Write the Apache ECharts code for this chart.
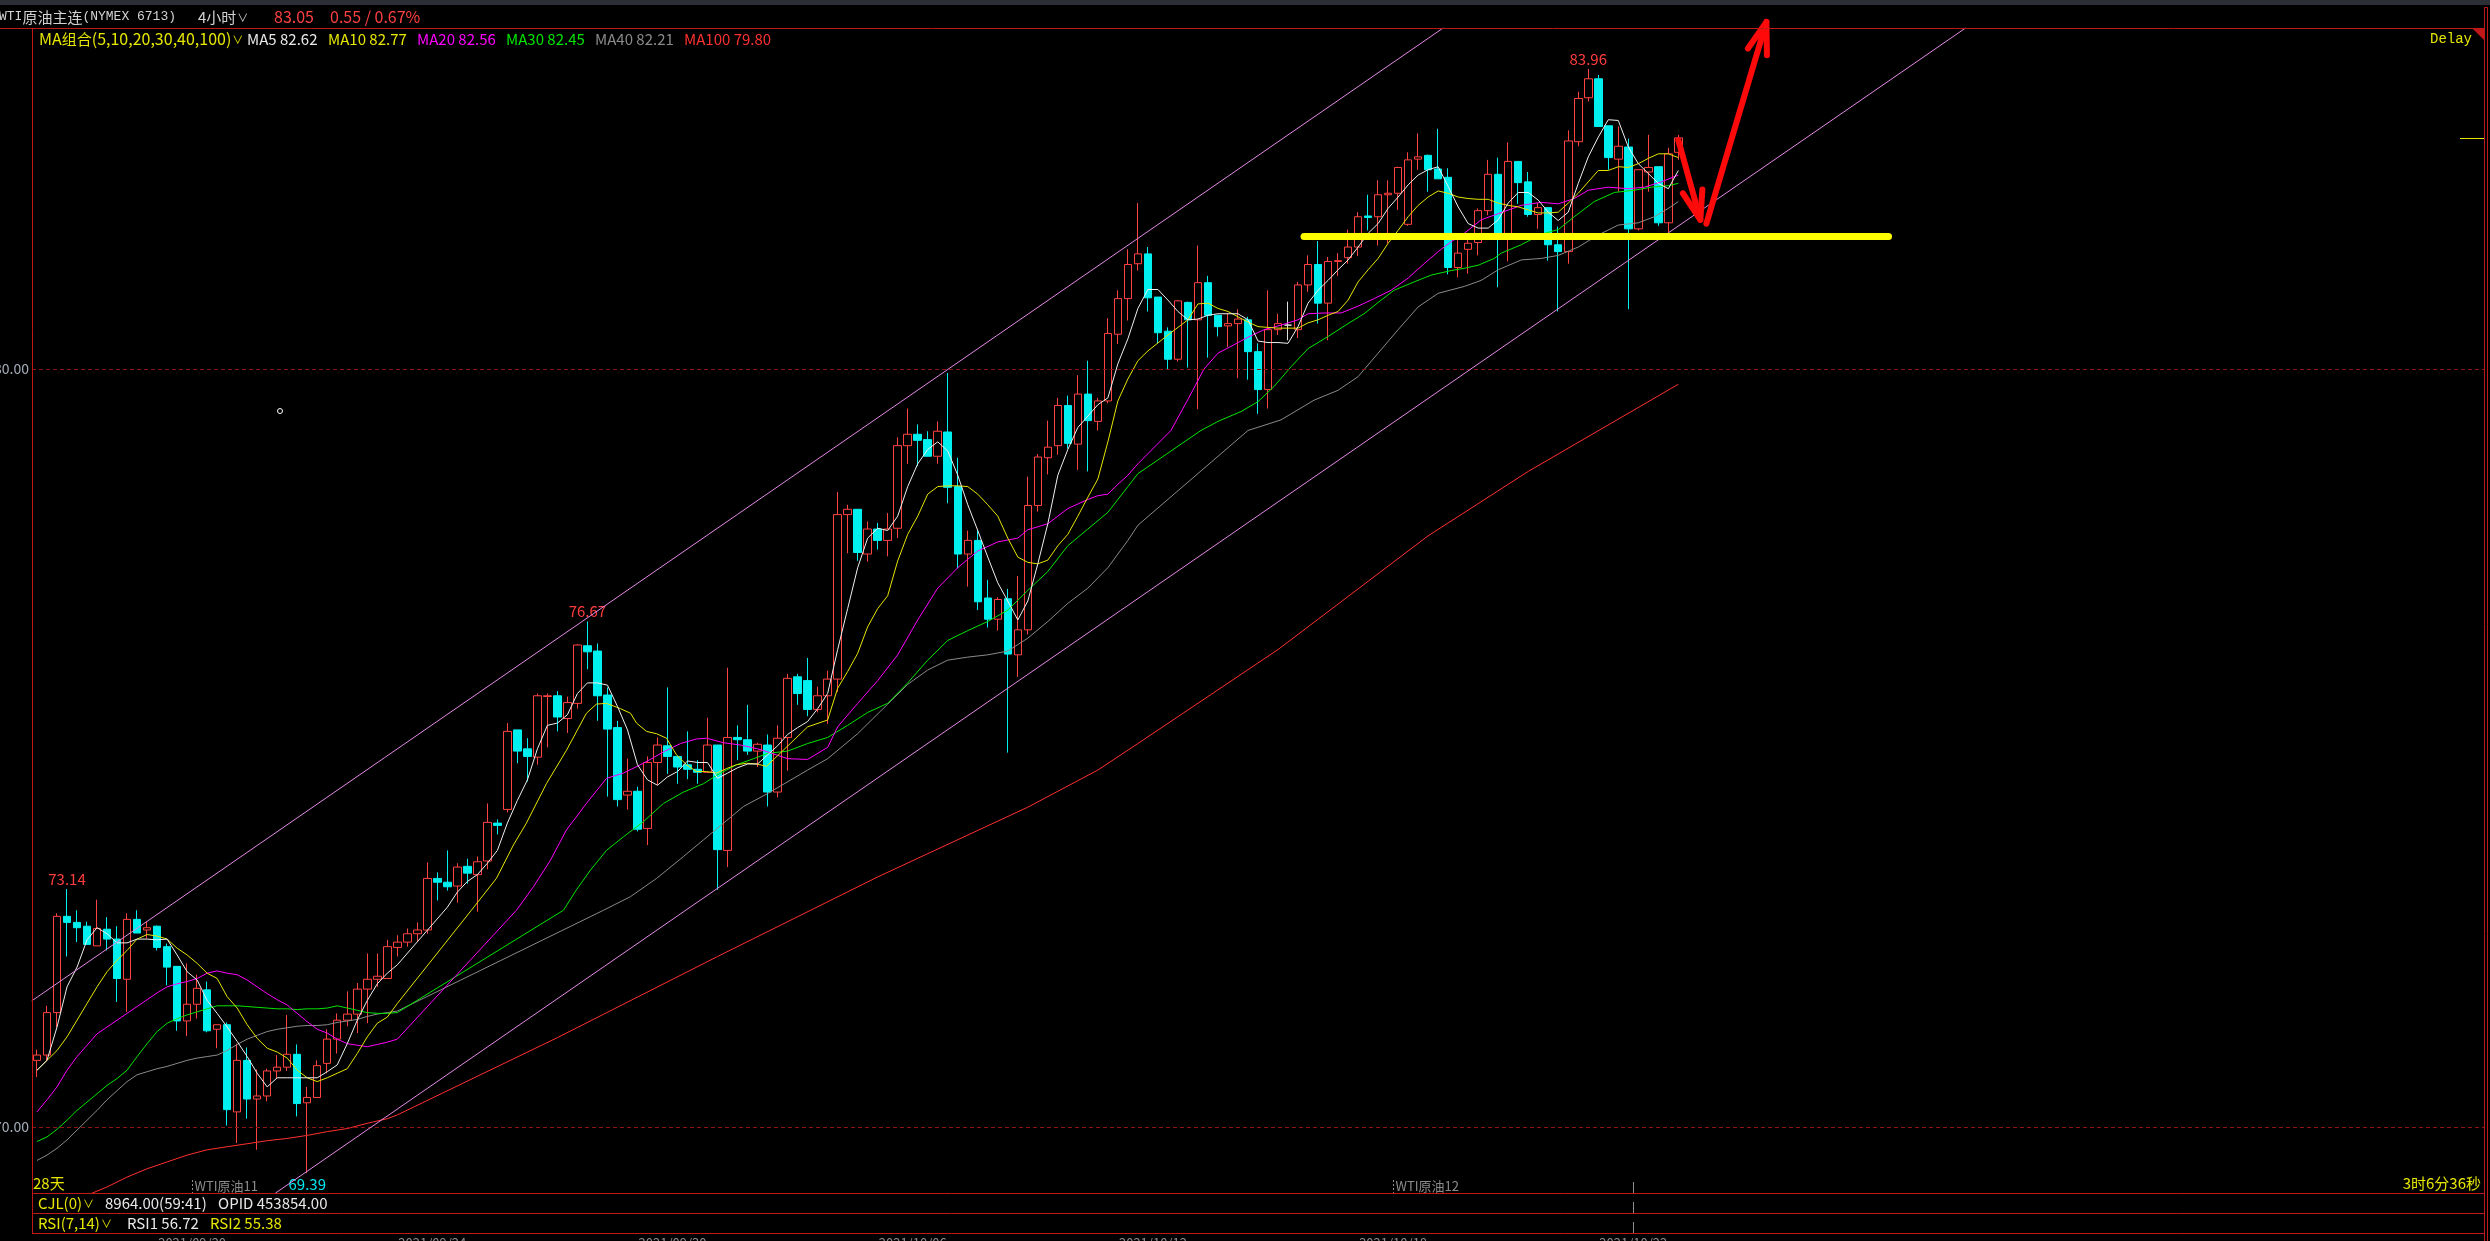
<!DOCTYPE html>
<html><head><meta charset="utf-8">
<script src="https://cdn.jsdelivr.net/npm/echarts@6/dist/echarts.min.js"></script>
<style>html,body{margin:0;padding:0;background:#000;overflow:hidden}#c{width:2490px;height:1241px}</style>
</head><body><div id="c"></div>
<script>
// ---------- DATA (bar numbers are 1-based) ----------
const open = [70.88,70.95,71.51,72.78,72.70,72.65,72.39,72.61,72.48,71.95, 72.74,72.60,72.65,72.38,72.12,71.40,71.62,71.81,71.29,71.35, 70.20,70.88,70.37,70.41,70.74,70.79,70.96,70.32,70.39,70.84, 71.16,71.41,71.49,71.82,71.95,71.96,72.37,72.44,72.55,72.60, 73.28,73.23,73.18,73.44,73.33,73.51,74.01,74.19,75.24,74.99, 74.88,75.68,75.69,75.39,75.59,76.35,76.28,75.70,75.27,74.38, 74.43,73.94,74.81,75.03,74.89,74.78,74.72,74.68,75.04,73.65, 75.14,75.11,74.96,75.04,74.42,75.14,75.94,75.89,75.51,75.69, 75.91,78.08,78.15,77.56,77.89,77.74,77.90,78.99,79.14,79.07, 78.85,79.17,78.45,77.56,77.74,76.98,76.70,76.97,76.23,76.56, 78.20,78.83,78.99,79.52,79.01,79.67,79.31,79.58,80.46,80.93, 81.39,81.52,80.95,80.50,80.13,80.88,80.65,81.14,80.71,80.57, 80.60,80.65,80.23,79.73,80.52,80.58,80.52,81.11,81.38,80.87, 81.42,81.47,81.61,82.02,82.01,82.30,82.32,81.91,82.77,82.82, 82.64,82.53,81.34,81.58,81.67,82.09,82.57,81.79,82.74,82.47, 82.04,82.13,81.64,81.55,83.00,83.58,83.83,83.21,82.77,82.93, 81.85,82.60,82.67,81.93,82.86];
const close = [70.95,71.51,72.78,72.70,72.63,72.41,72.62,72.48,71.96,72.74, 72.56,72.63,72.37,72.11,71.40,71.62,71.83,71.27,71.35,70.23, 70.88,70.37,70.41,70.74,70.79,70.96,70.31,70.39,70.81,71.16, 71.41,71.49,71.82,71.95,71.99,72.38,72.44,72.55,72.60,73.28, 73.23,73.17,73.43,73.35,73.50,74.02,73.98,75.22,74.96,74.89, 75.69,75.69,75.41,75.60,76.36,76.27,75.69,75.25,74.32,74.43, 73.93,74.81,75.04,74.89,74.75,74.72,74.68,75.04,73.66,75.14, 75.11,74.96,75.05,74.42,75.13,75.92,75.72,75.51,75.69,75.91, 78.08,78.15,77.58,77.89,77.74,77.89,78.99,79.14,79.06,78.85, 79.18,78.44,77.56,77.74,76.93,76.70,76.96,76.24,76.56,78.20, 78.84,78.97,79.52,79.02,79.67,79.32,79.58,80.47,80.93,81.38, 81.52,80.94,80.48,80.13,80.90,80.65,81.14,80.71,80.56,80.60, 80.66,80.23,79.73,80.52,80.60,80.58,81.11,81.38,80.87,81.42, 81.43,81.61,82.01,82.00,82.30,82.32,82.66,82.76,82.80,82.63, 82.51,81.34,81.53,81.66,82.09,82.57,81.75,82.74,82.46,82.04, 82.13,81.64,81.55,83.01,83.57,83.83,83.20,82.79,82.94,81.85, 82.63,82.66,81.93,82.84,83.05];
const high = [71.02,71.60,72.82,73.14,72.86,72.71,73.00,72.77,72.65,72.82, 72.86,72.71,72.66,72.42,72.12,72.16,72.01,71.92,71.35,71.38, 71.10,71.05,70.76,70.77,70.95,71.48,71.09,70.53,70.88,71.29, 71.50,71.79,71.90,72.29,72.29,72.47,72.53,72.62,72.70,73.49, 73.36,73.65,73.48,73.54,73.57,74.27,74.06,75.33,75.24,75.13, 75.72,75.72,75.75,75.68,76.37,76.67,76.38,75.80,75.36,74.86, 74.49,74.89,75.14,75.80,74.90,75.22,74.84,75.40,75.04,76.06, 75.30,75.57,75.07,75.18,75.30,75.98,75.98,76.19,75.81,76.02, 78.38,78.21,78.15,77.99,77.97,78.10,79.10,79.48,79.27,79.18, 79.31,79.95,78.83,77.87,77.88,77.22,76.99,77.10,77.27,78.58, 78.88,79.32,79.62,79.65,79.92,80.11,79.62,80.67,81.04,81.58, 82.19,81.61,80.95,80.55,80.91,80.89,81.63,81.23,80.71,80.74, 80.79,80.69,80.34,81.04,80.73,80.89,81.15,81.50,81.69,81.48, 81.53,81.84,82.07,82.30,82.49,82.49,82.67,82.86,83.11,82.83, 83.17,82.65,81.70,81.75,82.12,82.76,82.79,82.99,82.74,82.60, 82.19,82.13,81.88,83.15,83.66,83.96,83.88,83.21,83.20,83.04, 82.63,83.09,82.67,82.92,83.09];
const low = [70.66,70.88,71.32,72.25,72.44,72.41,72.39,72.33,71.65,71.52, 72.56,72.49,72.33,71.87,71.27,71.20,71.43,71.25,71.04,70.02, 69.79,70.11,69.70,70.34,70.64,70.74,70.14,69.39,70.39,70.71, 70.97,71.33,71.24,71.37,71.85,71.96,72.25,72.38,72.45,72.55, 72.99,73.12,72.96,73.21,72.84,73.40,73.86,74.15,74.80,74.56, 74.78,75.01,75.22,75.20,75.52,76.04,75.36,74.36,74.23,74.19, 73.90,73.72,74.51,74.66,74.53,74.59,74.53,74.67,73.13,73.43, 74.84,74.91,74.75,74.23,74.35,74.70,75.57,75.42,75.47,75.32, 75.74,77.57,77.47,77.46,77.62,77.53,77.77,78.75,78.72,78.85, 78.75,78.23,77.37,77.13,76.82,76.59,76.55,74.94,75.94,76.50, 78.12,78.61,78.87,78.95,78.67,78.65,79.19,79.55,80.33,80.64, 81.30,80.76,80.34,80.00,80.10,80.02,79.47,80.15,80.43,80.29, 79.88,79.86,79.41,79.48,80.45,80.38,80.41,81.02,80.60,80.38, 81.23,81.39,81.49,81.83,81.63,81.66,82.10,81.89,82.63,82.34, 82.51,81.25,81.21,81.26,81.50,82.03,81.08,81.42,82.18,82.01, 81.85,81.43,80.76,81.39,82.94,83.53,83.20,82.63,82.34,80.79, 81.83,82.34,81.89,81.80,82.76];

// moving averages: [bar number, value]
const ma5 = [[1,70.75],[2,70.88],[3,71.32],[4,71.85],[5,72.11],[6,72.47],[7,72.63],[8,72.55],[9,72.43],[10,72.43],[11,72.48],[12,72.48],[13,72.47],[14,72.48],[15,72.27],[16,72.05],[17,71.94],[18,71.67],[19,71.50],[20,71.32],[21,71.13],[22,70.93],[23,70.71],[24,70.53],[25,70.65],[26,70.65],[27,70.65],[28,70.65],[29,70.65],[30,70.73],[31,70.82],[32,71.10],[33,71.41],[34,71.67],[35,71.89],[36,72.03],[37,72.14],[42,72.90],[43,73.10],[44,73.24],[45,73.33],[46,73.48],[47,73.65],[48,74.01],[49,74.31],[50,74.58],[51,74.99],[52,75.30],[53,75.33],[54,75.44],[55,75.72],[56,75.86],[57,75.86],[58,75.83],[59,75.55],[60,75.24],[61,74.78],[62,74.58],[63,74.51],[64,74.62],[65,74.69],[66,74.83],[67,74.81],[68,74.81],[69,74.60],[70,74.67],[71,74.74],[72,74.79],[73,74.79],[74,74.91],[75,75.03],[76,75.18],[77,75.27],[78,75.35],[79,75.52],[80,75.72],[81,76.30],[82,76.84],[83,77.38],[84,77.77],[85,77.90],[86,77.87],[87,78.06],[88,78.45],[89,78.75],[90,78.94],[91,79.04],[92,78.92],[93,78.60],[94,78.21],[95,77.87],[96,77.52],[97,77.18],[98,76.94],[99,76.69],[100,76.94],[101,77.43],[102,77.96],[103,78.60],[104,78.94],[105,79.23],[106,79.38],[107,79.53],[108,79.62],[109,80.07],[110,80.40],[111,80.80],[112,81.05],[113,81.05],[114,80.91],[115,80.76],[116,80.65],[117,80.66],[118,80.71],[119,80.73],[120,80.73],[121,80.73],[122,80.65],[123,80.37],[124,80.35],[125,80.35],[126,80.34],[127,80.56],[128,80.87],[129,81.04],[130,81.17],[131,81.31],[132,81.44],[133,81.61],[134,81.79],[135,81.92],[136,82.12],[137,82.27],[138,82.43],[139,82.56],[140,82.63],[141,82.67],[142,82.41],[143,82.14],[144,81.92],[145,81.86],[146,81.86],[147,81.97],[148,82.19],[149,82.33],[150,82.33],[151,82.23],[152,82.07],[153,81.96],[154,82.07],[155,82.45],[156,82.80],[157,83.06],[158,83.29],[159,83.28],[160,82.93],[161,82.71],[162,82.58],[163,82.45],[164,82.38],[165,82.62]];
const ma10 = [[1,70.75],[2,70.88],[3,71.01],[4,71.19],[5,71.41],[6,71.63],[7,71.85],[8,72.05],[9,72.20],[10,72.33],[11,72.48],[12,72.54],[13,72.52],[14,72.48],[15,72.36],[16,72.27],[17,72.16],[18,72.03],[19,71.96],[20,71.72],[21,71.57],[22,71.35],[23,71.17],[24,71.04],[25,70.99],[26,70.91],[27,70.75],[28,70.65],[29,70.60],[30,70.65],[31,70.71],[32,70.77],[33,70.97],[34,71.19],[35,71.37],[36,71.45],[37,71.63],[44.4,72.86],[46.9,73.28],[48.6,73.72],[49.9,74.01],[51.9,74.53],[53.9,74.97],[55.9,75.46],[56.9,75.58],[57.9,75.59],[59.3,75.52],[60.3,75.46],[60.9,75.33],[61.9,75.22],[62.9,75.19],[63.9,75.13],[64.9,74.91],[65.9,74.78],[66.9,74.69],[67.9,74.69],[68.9,74.67],[69.9,74.73],[70.9,74.78],[71.9,74.80],[72.9,74.79],[73.9,74.76],[78,75.28],[80,75.37],[81,75.79],[82,76.01],[83,76.25],[84,76.60],[85,76.84],[86,77.01],[87,77.47],[88,77.82],[89,78.06],[90,78.35],[91,78.45],[92,78.46],[93,78.46],[94,78.45],[95,78.35],[96,78.21],[97,78.06],[98,77.77],[99,77.52],[100,77.45],[101,77.43],[102,77.48],[103,77.67],[104,77.82],[105,78.06],[106,78.31],[107,78.55],[108,79.04],[109,79.58],[110,79.87],[111,80.11],[112,80.24],[114,80.45],[116,80.65],[117,80.86],[118,80.87],[119,80.80],[120,80.76],[121,80.69],[122,80.62],[123,80.56],[125,80.54],[127,80.54],[128,80.61],[129,80.65],[130,80.71],[131,80.76],[132,80.91],[133,81.15],[134,81.31],[135,81.46],[136,81.66],[137,81.83],[138,82.01],[139,82.16],[140,82.27],[141,82.35],[142,82.32],[143,82.27],[144,82.25],[145,82.24],[146,82.24],[147,82.19],[148,82.16],[149,82.14],[150,82.10],[151,82.06],[152,82.06],[153,82.07],[154,82.19],[155,82.32],[156,82.47],[157,82.62],[158,82.62],[159,82.67],[160,82.66],[161,82.71],[162,82.78],[163,82.84],[164,82.84],[165,82.79]];
const ma20 = [[1,70.20],[2,70.36],[3,70.53],[4,70.75],[5,70.93],[6,71.08],[7,71.23],[8,71.32],[9,71.41],[10,71.50],[11,71.59],[12,71.68],[13,71.77],[14,71.85],[15,71.89],[16,71.92],[17,71.96],[18,72.03],[19,72.06],[20,72.03],[21,72.01],[22,71.94],[23,71.85],[24,71.76],[25,71.68],[26,71.61],[27,71.50],[28,71.39],[29,71.29],[30,71.24],[31,71.16],[32,71.10],[33,71.08],[34,71.06],[35,71.09],[36,71.12],[37,71.16],[48.9,72.86],[50.6,73.17],[52.3,73.52],[53.9,73.92],[55.9,74.27],[57.9,74.60],[59.6,74.67],[61.6,74.80],[63.6,74.95],[65.3,75.06],[66.9,75.12],[67.9,75.13],[69.6,75.07],[71.3,75.04],[73,74.99],[74,74.95],[76,74.86],[78,74.85],[80,75.01],[81,75.28],[83,75.59],[85,75.89],[87,76.23],[89,76.69],[91,77.11],[93,77.38],[95,77.60],[97,77.72],[99,77.77],[100,77.88],[101,77.92],[102,77.96],[103,78.06],[104,78.16],[106,78.28],[107,78.33],[108,78.35],[109,78.48],[110,78.60],[111,78.75],[114.3,79.19],[116,79.60],[117.6,80.00],[119,80.21],[120.3,80.30],[122,80.42],[123.6,80.52],[125.3,80.58],[127,80.65],[128,80.73],[129.6,80.74],[131.3,80.74],[133,80.83],[134.6,80.93],[136.3,81.04],[138,81.20],[139.6,81.39],[141,81.55],[142.3,81.68],[143.6,81.79],[145.3,81.97],[147,82.05],[149.3,82.16],[151.3,82.20],[153,82.18],[154.6,82.25],[156,82.36],[158,82.40],[160,82.38],[161.6,82.40],[163.3,82.47],[165,82.56]];
const ma30 = [[1,69.81],[2,69.87],[3,69.97],[4,70.09],[5,70.22],[6,70.33],[7,70.44],[8,70.55],[9,70.64],[10,70.75],[11,70.93],[12,71.10],[13,71.26],[14,71.37],[15,71.43],[16,71.48],[17,71.52],[18,71.56],[19,71.60],[20,71.60],[21,71.60],[22,71.59],[23,71.58],[24,71.57],[25,71.56],[26,71.56],[27,71.55],[28,71.56],[29,71.56],[30,71.57],[31,71.60],[32,71.57],[33,71.54],[34,71.51],[35,71.50],[36,71.50],[37,71.51],[53.6,72.86],[54.9,73.13],[56.3,73.39],[57.9,73.65],[59.6,73.83],[61.6,74.03],[63.6,74.27],[65.6,74.42],[67.6,74.53],[68.9,74.64],[70.9,74.78],[72.6,74.86],[74,74.93],[76,74.96],[78,75.06],[80,75.14],[82,75.30],[84,75.47],[86,75.59],[88,75.86],[90,76.16],[92,76.42],[94,76.55],[96,76.67],[98,76.82],[100,77.08],[102,77.33],[104,77.67],[106,77.89],[108,78.11],[110,78.45],[111,78.62],[117.3,79.19],[119,79.31],[121.3,79.44],[123,79.57],[124.6,79.77],[126.3,80.03],[128,80.27],[130,80.43],[132,80.60],[133.6,80.73],[135.3,80.91],[136.6,81.04],[138.6,81.15],[140.3,81.24],[142.3,81.30],[143.6,81.33],[145,81.37],[146.6,81.46],[147.3,81.53],[149.3,81.64],[151.3,81.78],[153,81.84],[154.6,82.01],[156.6,82.21],[158.6,82.33],[160.6,82.36],[162.3,82.40],[164,82.42],[165,82.45]];
const ma40 = [[1,69.56],[2,69.63],[3,69.72],[4,69.83],[5,69.96],[6,70.09],[7,70.22],[8,70.36],[9,70.48],[10,70.60],[11,70.69],[12,70.73],[13,70.77],[14,70.80],[15,70.84],[16,70.88],[17,70.91],[18,70.93],[19,70.95],[20,71.01],[21,71.09],[22,71.16],[23,71.21],[24,71.26],[25,71.29],[26,71.31],[27,71.33],[28,71.34],[29,71.34],[30,71.35],[31,71.38],[32,71.40],[33,71.42],[34,71.46],[35,71.49],[36,71.51],[37,71.53],[57.6,72.86],[60.3,73.04],[62.9,73.28],[65.6,73.57],[67.6,73.79],[69.6,74.01],[71.6,74.23],[74,74.40],[78,74.71],[80,74.86],[83,75.19],[86,75.58],[88,75.84],[90,76.03],[92,76.16],[94,76.20],[96,76.23],[98,76.28],[100,76.45],[102,76.67],[104,76.91],[106,77.11],[108,77.38],[110,77.74],[111,77.94],[122,79.19],[125.3,79.33],[128.6,79.59],[131,79.72],[133,79.90],[135,80.21],[137,80.52],[139,80.82],[141,81.00],[143.6,81.09],[145.3,81.17],[147,81.31],[149.3,81.44],[151.3,81.46],[153,81.50],[155,81.61],[157,81.77],[159,81.90],[161,81.93],[162.6,82.01],[164,82.12],[165,82.21]];
const ma100 = [[6,69.10],[8,69.21],[10,69.34],[12,69.45],[14,69.54],[16,69.63],[18,69.70],[20,69.74],[22,69.78],[24,69.82],[26,69.85],[28,69.89],[30,69.94],[32,69.98],[34,70.05],[36,70.11],[37,70.16],[53,71.18],[69,72.25],[85,73.30],[100,74.22],[107,74.71],[111,75.06],[125,76.30],[140,77.80],[150,78.65],[165,79.80]];

// drawn annotations, in [bar number, price]
const channelUpper = [[0.5,71.667],[141.5,84.5]];
const channelLower = [[24.84,69.13],[193.7,84.5]];
const supportLine = [[127.6,81.75],[186.0,81.75]];
const arrowDownShaft = [[165.0,83.02],[167.2,81.97]];
const arrowDownHead = [[165.45,82.32],[167.2,81.97],[167.4,82.37]];
const arrowUpShaft = [[167.8,81.92],[173.8,84.58]];
const arrowUpHead = [[171.95,84.23],[173.8,84.58],[173.85,84.14]];

const priceTicks = [70, 80];
const labelHighBars = [4, 56, 156];
const labelLowBars = [28];
const dateBars = [17, 41, 65, 89, 113, 137, 161];
const dateLabels = ['2021/09/20','2021/09/24','2021/09/30','2021/10/06','2021/10/12','2021/10/18','2021/10/22'];
const contractMarks = [[17,'WTI原油11'],[137,'WTI原油12']];
const nowBar = 161;
const totalSlots = 245;

// ---------- BUILD ----------
const SANS = "'Noto Sans CJK SC','Noto Sans',sans-serif";
const MONO = "'Liberation Mono','DejaVu Sans Mono',monospace";
const FRAME = '#c01818';

const cats = [];
for (let i = 0; i < totalSlots; i++) cats.push(String(i + 1));
const candles = open.map((o, i) => {
  const v = [o, close[i], low[i], high[i]];
  if (o === close[i]) return {value: v, itemStyle: {color: '#e0e0e0', borderColor: '#e0e0e0'}};
  return v;
});
const toIdx = arr => arr.map(p => [p[0] - 1, p[1]]);

function maSeries(name, pts, color) {
  return {name, type: 'line', xAxisIndex: 1, yAxisIndex: 0, data: toIdx(pts), showSymbol: false,
    symbol: 'none', lineStyle: {color, width: 1}, silent: true, z: 4, animation: false};
}
function drawLine(pts, color, width, z, clip) {
  return {type: 'line', xAxisIndex: 1, yAxisIndex: 0, data: toIdx(pts), showSymbol: false, symbol: 'none',
    lineStyle: {color, width, cap: 'round', join: 'round'}, silent: true, z, clip: clip !== false, animation: false};
}

const markPts = [];
labelHighBars.forEach(b => markPts.push({coord: [cats[b - 1], high[b - 1]],
  label: {position: 'top', distance: 2, color: '#ff3c3c', formatter: high[b - 1].toFixed(2)}}));
labelLowBars.forEach(b => markPts.push({coord: [cats[b - 1], low[b - 1]],
  label: {position: 'bottom', distance: 3, color: '#00e8f0', formatter: low[b - 1].toFixed(2)}}));

const option = {
  backgroundColor: '#000',
  animation: false,
  grid: [
    {left: 32, right: 6, top: 28, height: 1165, outerBoundsMode: 'none', containLabel: false}
  ],
  xAxis: [
    {type: 'category', gridIndex: 0, data: cats, boundaryGap: true, show: false},
    {type: 'value', gridIndex: 0, min: -0.5, max: totalSlots - 0.5, show: false}
  ],
  yAxis: [
    {type: 'value', gridIndex: 0, min: 69.13, max: 84.5, scale: true,
      axisLine: {show: false}, axisTick: {show: false}, splitLine: {show: false},
      axisLabel: {customValues: priceTicks, formatter: v => v.toFixed(2), color: '#a6aebb', fontSize: 14,
        fontFamily: SANS, margin: 3}}
  ],
  series: [
    {type: 'candlestick', xAxisIndex: 0, yAxisIndex: 0, data: candles, barWidth: 8, z: 3,
      itemStyle: {color: '#000', color0: '#00f0f0', borderColor: '#ff4242', borderColor0: '#00f0f0', borderWidth: 1},
      markLine: {silent: true, symbol: ['none', 'none'], label: {show: false},
        lineStyle: {color: '#8e1414', type: [4, 3], width: 1},
        data: priceTicks.map(v => ({yAxis: v}))},
      markPoint: {symbol: 'circle', symbolSize: 1, itemStyle: {color: 'rgba(0,0,0,0)'}, silent: true,
        label: {show: true, fontSize: 15, fontFamily: SANS}, data: markPts}},
    maSeries('MA100', ma100, '#ff3030'),
    maSeries('MA40', ma40, '#8a8a8a'),
    maSeries('MA30', ma30, '#00e600'),
    maSeries('MA20', ma20, '#ff00ff'),
    maSeries('MA10', ma10, '#e6e600'),
    maSeries('MA5', ma5, '#f0f0f0'),
    drawLine(channelUpper, '#e58ae5', 1, 5),
    drawLine(channelLower, '#e58ae5', 1, 5),
    drawLine(supportLine, '#ffff00', 7, 6),
    drawLine(arrowDownShaft, '#ff0a0a', 6, 7, false),
    drawLine(arrowDownHead, '#ff0a0a', 6, 7, false),
    drawLine(arrowUpShaft, '#ff0a0a', 6, 7, false),
    drawLine(arrowUpHead, '#ff0a0a', 6, 7, false)
  ]
};

const chart = echarts.init(document.getElementById('c'));
chart.setOption(option);

// ---------- chrome & annotations ----------
const px = v => chart.convertToPixel({xAxisIndex: 1}, v);
const py = v => chart.convertToPixel({yAxisIndex: 0}, v);
function txt(x, y, text, fill, font, align, vAlign) {
  return {type: 'text', x, y, silent: true, z: 20,
    style: {text, fill, font, align: align || 'left', verticalAlign: vAlign || 'middle'}};
}
function dd(x, y, text, fill, font) {
  return {type: 'text', x, y, silent: true, z: 20, style: {
    text: '{a|' + text + '}{v|∨}', verticalAlign: 'middle',
    rich: {a: {fill, font}, v: {fill, font: '11px ' + SANS, padding: [2, 0, 0, 1]}}}};
}
function ln(x1, y1, x2, y2, stroke, dash) {
  return {type: 'line', silent: true, z: 19, shape: {x1, y1, x2, y2},
    style: {stroke, lineWidth: 1, lineDash: dash || null}};
}
const g = [];
g.push({type: 'rect', silent: true, z: 18, shape: {x: 0, y: 0, width: 2490, height: 5}, style: {fill: '#2c2f35'}});
g.push(ln(0, 28.5, 2484, 28.5, FRAME));
g.push(ln(32.5, 28, 32.5, 1233.5, FRAME));
g.push(ln(32, 1193.5, 2484, 1193.5, FRAME));
g.push(ln(32, 1213.5, 2484, 1213.5, FRAME));
g.push(ln(32, 1233.5, 2484, 1233.5, FRAME));
g.push({type: 'rect', silent: true, z: 19, shape: {x: 2484.5, y: 7.5, width: 3, height: 1240}, style: {fill: null, stroke: FRAME, lineWidth: 1}});
g.push({type: 'polygon', silent: true, z: 19, shape: {points: [[2473, 29], [2484, 29], [2484, 40]]}, style: {fill: FRAME}});

// header
g.push({type: 'text', x: -1, y: 17, silent: true, z: 20, style: {
  text: '{m|WTI}{c|原油主连}{m|(NYMEX 6713)}', verticalAlign: 'middle',
  rich: {m: {fill: '#d2d2d2', font: '13px ' + MONO}, c: {fill: '#d2d2d2', font: '15px ' + SANS}}}});
g.push(dd(198, 17, '4小时', '#d2d2d2', '15px ' + SANS));
g.push(txt(274, 17, '83.05', '#ff4040', '16px ' + SANS));
g.push(txt(330, 17, '0.55 / 0.67%', '#ff4040', '16px ' + SANS));
const legendFont = '15px ' + SANS;
g.push({type: 'text', x: 39, y: 39, silent: true, z: 20, style: {
  text: '{a|MA}{c|组合}{a|(5,10,20,30,40,100)}{v|∨}', verticalAlign: 'middle',
  rich: {a: {fill: '#e6e600', font: '16px ' + SANS}, c: {fill: '#e6e600', font: '15px ' + SANS},
    v: {fill: '#e6e600', font: '11px ' + SANS, padding: [2, 0, 0, 1]}}}});
g.push(txt(247, 39, 'MA5 82.62', '#e8e8e8', legendFont));
g.push(txt(328, 39, 'MA10 82.77', '#e6e600', legendFont));
g.push(txt(417, 39, 'MA20 82.56', '#ff00ff', legendFont));
g.push(txt(506, 39, 'MA30 82.45', '#00e600', legendFont));
g.push(txt(595, 39, 'MA40 82.21', '#8a8a8a', legendFont));
g.push(txt(684, 39, 'MA100 79.80', '#ff3030', legendFont));
g.push(txt(2430, 39, 'Delay', '#e6e600', '14px ' + MONO));
const yLast = Math.round(py(close[close.length - 1])) + 0.5;
g.push(ln(2460, yLast, 2484, yLast, '#e6e600'));
g.push(txt(33, 1183, '28天', '#e6e600', '15px ' + SANS));
contractMarks.forEach(([b, t]) => {
  const x = Math.round(px(b - 1.5)) + 0.5;
  g.push(ln(x, 1180, x, 1193, '#8c8c8c', [2, 2]));
  g.push(txt(x + 2, 1186, t, '#8c8c8c', '13px ' + SANS));
});
const xn = Math.round(px(nowBar - 1.5)) + 0.5;
[[1182, 1193], [1202, 1213], [1222, 1233]].forEach(([a, b]) => g.push(ln(xn, a, xn, b, '#8c8c8c')));
g.push(txt(2481, 1183, '3时6分36秒', '#e6e600', '15px ' + SANS, 'right'));
const subFont = '15px ' + SANS;
g.push(dd(38, 1203, 'CJL(0)', '#e6e600', subFont));
g.push(txt(105, 1203, '8964.00(59:41)', '#e8e8e8', subFont));
g.push(txt(218, 1203, 'OPID 453854.00', '#e8e8e8', subFont));
g.push(dd(38, 1223, 'RSI(7,14)', '#e6e600', subFont));
g.push(txt(127, 1223, 'RSI1 56.72', '#e8e8e8', subFont));
g.push(txt(210, 1223, 'RSI2 55.38', '#e6e600', subFont));
// date labels below the last pane (cut off by the window edge)
dateBars.forEach((b, k) => g.push(txt(px(b - 1.5), 1237, dateLabels[k], '#8c8c8c', '13px ' + SANS, 'center', 'top')));
g.push({type: 'circle', silent: true, z: 20, shape: {cx: 280, cy: 411, r: 2.5}, style: {fill: '#000', stroke: '#fff', lineWidth: 1}});

chart.setOption({graphic: g});
</script></body></html>
